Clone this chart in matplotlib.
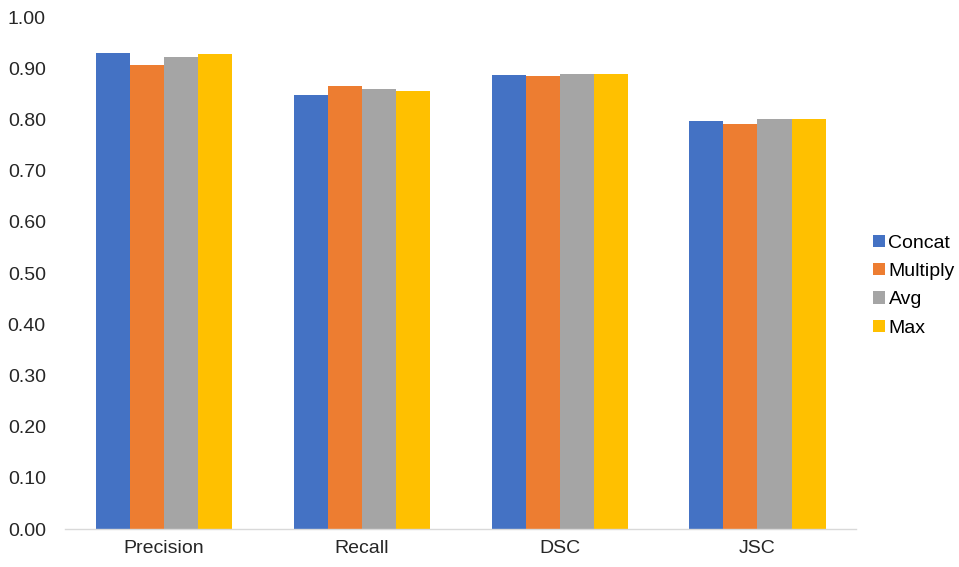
import matplotlib
matplotlib.use("Agg")
import matplotlib.pyplot as plt
import numpy as np

plt.rcParams['font.family'] = ['Liberation Sans', 'DejaVu Sans']

categories = ["Precision", "Recall", "DSC", "JSC"]
series_names = ["Concat", "Multiply", "Avg", "Max"]
concat = [0.929, 0.848, 0.887, 0.796]
multiply = [0.906, 0.865, 0.885, 0.792]
avg = [0.922, 0.859, 0.889, 0.800]
maxv = [0.928, 0.855, 0.889, 0.801]
colors = ["#4472C4", "#ED7D31", "#A5A5A5", "#FFC000"]

fig = plt.figure(figsize=(9.59, 5.67), dpi=100)
ax = fig.add_axes([0.068, 0.067, 0.825, 0.903])

x = np.arange(len(categories))
width = 0.172
all_series = [concat, multiply, avg, maxv]
for i, (vals, name, c) in enumerate(zip(all_series, series_names, colors)):
    ax.bar(x + (i - 1.5) * width, vals, width, color=c, label=name)

ax.set_xlim(-0.5, len(categories) - 0.5)
ax.set_ylim(0, 1.0)
ax.set_yticks(np.arange(0, 1.01, 0.1))
ax.set_yticklabels([f"{v:.2f}" for v in np.arange(0, 1.01, 0.1)])
ax.set_xticks(x)
ax.set_xticklabels(categories)
ax.tick_params(axis='both', length=0, labelsize=14, colors='#262626', pad=8)
ax.tick_params(axis='y', pad=14)

for s in ['top', 'right', 'left']:
    ax.spines[s].set_visible(False)
ax.spines['bottom'].set_color('#D9D9D9')
ax.spines['bottom'].set_linewidth(1)

ax.legend(loc='center left', bbox_to_anchor=(1.0, 0.475), frameon=False,
          fontsize=14, handlelength=0.6, handleheight=0.6, handletextpad=0.2,
          labelspacing=0.58, borderaxespad=0.45)

fig.savefig("out.png", dpi=100)
